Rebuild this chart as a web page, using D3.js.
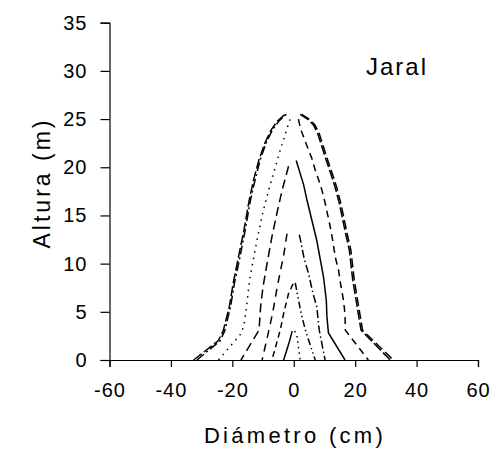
<!DOCTYPE html>
<html><head><meta charset="utf-8">
<script src="https://cdn.jsdelivr.net/npm/d3@7"></script>
<style>body{margin:0;background:#fff}svg{display:block}text{font-family:"Liberation Sans",Arial,sans-serif;fill:#000}</style>
</head><body>
<svg id="c" width="494" height="449"></svg>
<script>
// Tick values
const xTicks = [-60,-40,-20,0,20,40,60];
const yTicks = [0,5,10,15,20,25,30,35];
// Stem profiles: [diameter (cm), height (m)]
const outerLeftA = [[-32.6,0],[-24.6,2],[-23,3],[-21,5.5],[-19.7,8],[-18,10.7],[-16.2,13.5],[-14.5,16.6],[-13,18.8],[-11.3,20.8],[-9.3,22.6],[-7.3,23.9],[-5.3,24.8],[-2.8,25.5]];
const outerLeftB = [[-31.5,0],[-24,2],[-22.5,3],[-20.6,5.5],[-19.3,8],[-17.5,10.7],[-15.8,13.5],[-14.1,16.6],[-12.5,18.8],[-10.9,20.8],[-8.9,22.6],[-6.9,23.9],[-4.8,24.8],[-2.4,25.5]];
const outerRightA = [[2.1,25.5],[4.5,25],[6.4,24.4],[7.8,23.5],[8.8,22.5],[10.6,20.7],[12.1,19.3],[13.4,18],[14.8,16.3],[16.9,13.1],[18.1,11.4],[19.2,8.3],[20.3,6.2],[21.9,3.1],[31.4,0]];
const outerRightB = [[2.6,25.5],[5,25],[6.9,24.4],[8.3,23.5],[9.3,22.5],[11.1,20.7],[12.6,19.3],[13.9,18],[15.3,16.3],[17.4,13.1],[18.6,11.4],[19.7,8.3],[20.8,6.2],[22.4,3.1],[32.4,0]];
const secondLeft = [[-24.5,0],[-17,2.8],[-16,4],[-15.2,6],[-14.5,8],[-13.6,9.7],[-12,12.4],[-10.3,15],[-8.2,17.6],[-6,20],[-4.4,21.8],[-2.2,24],[-1.2,25]];
const secondRight = [[1.5,25],[2.3,23.9],[3.4,23],[4.8,21.8],[5.9,20.9],[7,19.7],[8.1,18.7],[9.2,17.6],[10.2,16.3],[11.9,13.8],[12.7,12.4],[13.5,10.7],[14.6,9.3],[15.4,7.6],[16.2,6.2],[16.7,4.7],[16.8,3.1],[24.3,0]];
const thirdLeft = [[-1.7,20.1],[-3.8,17.6],[-5.5,15.2],[-7.1,12.8],[-8.7,10],[-10,7.6],[-10.8,5.5],[-11.3,3.1],[-17.2,0]];
const thirdRight = [[0.8,20.7],[3.2,18.2],[4.3,16.6],[7.5,12.4],[9.7,8.6],[10.6,6.2],[10.8,4.5],[11.3,2.8],[16.7,0]];
const fourthLeft = [[-2.2,13.1],[-3.2,11],[-4.5,9],[-5.7,7],[-6.8,5],[-7.8,3.5],[-10.3,0]];
const fourthRight = [[1.8,13],[2.1,12.6],[3.4,10.5],[4.8,9],[6.2,7],[7.5,5.5],[8.3,3.1],[10.2,0]];
const fifthLeft = [[-0.2,7.9],[-1.7,6.9],[-3.3,4.8],[-4.4,3.1],[-7.1,0]];
const fifthRight = [[0.5,8],[1.2,6.8],[2.3,5],[3.7,3.2],[4.8,2.1],[7,0]];
const sixthLeft = [[-3.3,0],[-1.7,1.6],[-0.5,3]];
const sixthRight = [[0.3,3],[1,2.6],[2.1,0]];

const series = [
  {d: outerLeftA, dash: "10,3"},
  {d: outerLeftB, dash: "9,3,2,3"},
  {d: outerRightA, dash: "10,3"},
  {d: outerRightB, dash: "9,4"},
  {d: secondLeft, dash: "1.5,5"},
  {d: secondRight, dash: "7,5"},
  {d: thirdLeft, dash: "9,5"},
  {d: thirdRight, dash: null},
  {d: fourthLeft, dash: "8,6"},
  {d: fourthRight, dash: "8,3,1.5,3"},
  {d: fifthLeft, dash: "6,4"},
  {d: fifthRight, dash: "7,3,1.5,3,1.5,3"},
  {d: sixthLeft, dash: null},
  {d: sixthRight, dash: "1.5,4"}
];

const svg = d3.select("#c");
const x = d3.scaleLinear().domain([-60,60]).range([109.5,478]);
const y = d3.scaleLinear().domain([0,35]).range([360,22.7]);

const line = d3.line().x(p=>x(p[0])).y(p=>y(p[1]));
svg.append("g").selectAll("path").data(series).join("path")
  .attr("d", s=>line(s.d)).attr("fill","none").attr("stroke","#000")
  .attr("stroke-width",1.5).attr("stroke-dasharray", s=>s.dash);

const xa = svg.append("g").attr("transform","translate(0,360)")
  .call(d3.axisBottom(x).tickValues(xTicks).tickSize(7).tickPadding(16).tickFormat(d3.format("d")));
const ya = svg.append("g").attr("transform","translate(109.5,0)")
  .call(d3.axisLeft(y).tickValues(yTicks).tickSize(9).tickPadding(13).tickFormat(d3.format("d")));
[xa,ya].forEach(a=>{
  a.select(".domain").attr("stroke","#000").attr("stroke-width",1.2);
  a.selectAll(".tick line").attr("stroke","#000").attr("stroke-width",1.2);
  a.selectAll("text").attr("font-size","20px").attr("font-family","Liberation Sans, Arial, sans-serif").attr("fill","#000").style("letter-spacing","1px");
});
xa.selectAll("text").text(d=>d<0 ? "-"+Math.abs(d) : d);

svg.append("text").attr("x",295).attr("y",443).attr("text-anchor","middle")
  .attr("font-size","22px").style("letter-spacing","3.3px").text("Diámetro (cm)");
svg.append("text").attr("transform","translate(50,183) rotate(-90)").attr("text-anchor","middle")
  .attr("font-size","23px").style("letter-spacing","3px").text("Altura (m)");
svg.append("text").attr("x",366).attr("y",75).attr("font-size","24px").style("letter-spacing","2px").text("Jaral");
</script>
</body></html>
